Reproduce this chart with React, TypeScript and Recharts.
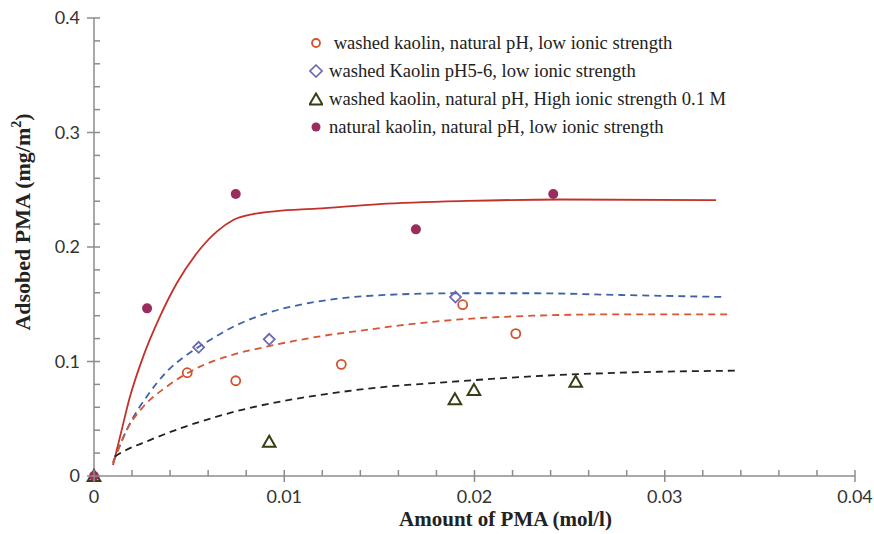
import { ComposedChart, Line, Scatter, XAxis, YAxis } from 'recharts';

// measured points
const washedX = [0.0049, 0.00745, 0.013, 0.01938, 0.02217];
const washedY = [0.0902, 0.0832, 0.0975, 0.1496, 0.1243];

const ph56X = [0.0055, 0.00921, 0.019];
const ph56Y = [0.1124, 0.1194, 0.1563];

const highIonX = [0, 0.00921, 0.01897, 0.01997, 0.02532];
const highIonY = [0, 0.030, 0.067, 0.0751, 0.0824];

const naturalX = [0, 0.00279, 0.00745, 0.01692, 0.02414];
const naturalY = [0, 0.1464, 0.2463, 0.2154, 0.2463];

// fitted curves
const naturalFitX = [0.001, 0.00137, 0.00189, 0.00259, 0.00347, 0.00435, 0.0054, 0.00645, 0.00732, 0.00837, 0.0096, 0.0117, 0.015, 0.0196, 0.0245, 0.0327];
const naturalFitY = [0.0096, 0.0344, 0.0692, 0.1045, 0.1394, 0.1683, 0.1945, 0.2134, 0.2236, 0.2288, 0.2314, 0.2335, 0.2375, 0.2402, 0.2415, 0.241];

const ph56FitX = [0.001, 0.00189, 0.00277, 0.00382, 0.00487, 0.0061, 0.00732, 0.00908, 0.0117, 0.01433, 0.019, 0.02307, 0.02765, 0.0332];
const ph56FitY = [0.012, 0.046, 0.0693, 0.0911, 0.1057, 0.1188, 0.1304, 0.1421, 0.1522, 0.1572, 0.1596, 0.1596, 0.1581, 0.1563];

const washedFitX = [0.001, 0.00172, 0.00259, 0.00382, 0.00557, 0.00732, 0.00908, 0.0117, 0.0145, 0.01608, 0.0196, 0.0231, 0.02765, 0.03343];
const washedFitY = [0.011, 0.0402, 0.0605, 0.078, 0.0955, 0.106, 0.113, 0.1215, 0.128, 0.1315, 0.1372, 0.14, 0.1412, 0.1412];

const highIonFitX = [0.0011, 0.00137, 0.00294, 0.00469, 0.00645, 0.0082, 0.00995, 0.0117, 0.01433, 0.01889, 0.0231, 0.02765, 0.0337];
const highIonFitY = [0.017, 0.0198, 0.0314, 0.0425, 0.0518, 0.0595, 0.0655, 0.0703, 0.0762, 0.0824, 0.0871, 0.0902, 0.092];

const xTicks = [0, 0.002, 0.004, 0.006, 0.008, 0.01, 0.012, 0.014, 0.016, 0.018, 0.02, 0.022, 0.024, 0.026, 0.028, 0.03, 0.032, 0.034, 0.036, 0.038, 0.04];
const yTicks = [0, 0.02, 0.04, 0.06, 0.08, 0.1, 0.12, 0.14, 0.16, 0.18, 0.2, 0.22, 0.24, 0.26, 0.28, 0.3, 0.32, 0.34, 0.36, 0.38, 0.4];

const legendLabels = [
  '\u00a0washed kaolin, natural pH, low ionic strength',
  'washed Kaolin pH5-6, low ionic strength',
  'washed kaolin, natural pH, High ionic strength 0.1 M',
  'natural kaolin, natural pH, low ionic strength',
];

const toPoints = (xs: number[], ys: number[]) => xs.map((x, i) => ({ x, y: ys[i] }));

const AXIS = '#8c8c8c';
const TICK_FONT = 'Lato, "Open Sans", sans-serif';
const SERIF = '"Liberation Serif", "Times New Roman", serif';

const C_WASHED = '#d4502e';
const C_PH56 = '#6b68b3';
const C_HIGH = '#3a3d12';
const C_NAT = '#9b2c5e';

const isMajor = (v: number, step: number) => Math.abs(v / step - Math.round(v / step)) < 1e-6;

const XTick = (props: any) => {
  const { x, y, payload } = props;
  const v = payload.value;
  const major = isMajor(v, 0.01);
  return (
    <g>
      <line x1={x} x2={x} y1={y - 6} y2={y + (major ? 6 : 0)} stroke={AXIS} strokeWidth={1.5} />
      {major && (
        <text x={x} y={y + 27} textAnchor="middle" fontFamily={TICK_FONT} fontSize={18} fill="#333">
          {String(Math.round(v * 100) / 100)}
        </text>
      )}
    </g>
  );
};

const YTick = (props: any) => {
  const { x, y, payload } = props;
  const v = payload.value;
  const major = isMajor(v, 0.1);
  return (
    <g>
      <line x1={x - (major ? 7 : 0)} x2={x + 6} y1={y} y2={y} stroke={AXIS} strokeWidth={1.5} />
      {major && (
        <text x={x - 14} y={y} dy="0.35em" textAnchor="end" fontFamily={TICK_FONT} fontSize={18} fill="#333">
          {String(Math.round(v * 10) / 10)}
        </text>
      )}
    </g>
  );
};

const OpenCircle = (p: any) => <circle cx={p.cx} cy={p.cy} r={4.5} fill="none" stroke={C_WASHED} strokeWidth={1.8} />;
const Diamond = (p: any) => (
  <path d={`M${p.cx},${p.cy - 5.5}L${p.cx + 5.5},${p.cy}L${p.cx},${p.cy + 5.5}L${p.cx - 5.5},${p.cy}Z`} fill="none" stroke={C_PH56} strokeWidth={1.8} />
);
const Triangle = (p: any) => (
  <path d={`M${p.cx},${p.cy - 6}L${p.cx + 6.3},${p.cy + 5}L${p.cx - 6.3},${p.cy + 5}Z`} fill="none" stroke={C_HIGH} strokeWidth={2} />
);
const Dot = (p: any) => <circle cx={p.cx} cy={p.cy} r={5} fill={C_NAT} />;

const legendMarkers = [
  <circle cx={7} cy={7} r={4} fill="none" stroke={C_WASHED} strokeWidth={1.8} />,
  <path d="M7,1L13,7L7,13L1,7Z" fill="none" stroke={C_PH56} strokeWidth={1.6} />,
  <path d="M7,1.5L13.5,12.5L0.5,12.5Z" fill="none" stroke={C_HIGH} strokeWidth={2} />,
  <circle cx={7} cy={7} r={4.5} fill={C_NAT} />,
];

export default function App() {
  return (
    <div style={{ position: 'absolute', left: 0, top: 0, width: 874, height: 534, background: '#fff' }}>
      <ComposedChart width={874} height={534} margin={{ top: 18, right: 19, left: 0, bottom: 0 }}>
        <XAxis
          type="number"
          dataKey="x"
          domain={[0, 0.04]}
          ticks={xTicks}
          interval={0}
          height={58}
          tickSize={0}
          tickMargin={0}
          tickLine={false}
          tick={<XTick />}
          axisLine={{ stroke: AXIS, strokeWidth: 1.5 }}
          label={{
            content: (p: any) => (
              <text
                x={p.viewBox.x + p.viewBox.width / 2 + 31}
                y={p.viewBox.y + 50}
                textAnchor="middle"
                fontFamily={SERIF}
                fontWeight="bold"
                fontSize={21}
                fill="#222"
              >
                Amount of PMA (mol/l)
              </text>
            ),
          }}
        />
        <YAxis
          type="number"
          dataKey="y"
          domain={[0, 0.4]}
          ticks={yTicks}
          interval={0}
          width={94}
          tickSize={0}
          tickMargin={0}
          tickLine={false}
          tick={<YTick />}
          axisLine={{ stroke: AXIS, strokeWidth: 1.5 }}
          label={{
            content: (p: any) => {
              const cx = 30;
              const cy = p.viewBox.y + p.viewBox.height / 2 - 25;
              return (
                <text
                  x={cx}
                  y={cy}
                  transform={`rotate(-90 ${cx} ${cy})`}
                  textAnchor="middle"
                  fontFamily={SERIF}
                  fontWeight="bold"
                  fontSize={22}
                  fill="#222"
                >
                  Adsobed PMA (mg/m<tspan dy={-9} fontSize={14}>2</tspan><tspan dy={9}>)</tspan>
                </text>
              );
            },
          }}
        />

        <Line data={toPoints(naturalFitX, naturalFitY)} dataKey="y" type="monotone" stroke="#c4302a" strokeWidth={1.8} dot={false} activeDot={false} isAnimationActive={false} />
        <Line data={toPoints(ph56FitX, ph56FitY)} dataKey="y" type="monotone" stroke="#3d62a6" strokeWidth={1.8} strokeDasharray="7 5" dot={false} activeDot={false} isAnimationActive={false} />
        <Line data={toPoints(washedFitX, washedFitY)} dataKey="y" type="monotone" stroke="#d55535" strokeWidth={1.8} strokeDasharray="7 5" dot={false} activeDot={false} isAnimationActive={false} />
        <Line data={toPoints(highIonFitX, highIonFitY)} dataKey="y" type="monotone" stroke="#222" strokeWidth={1.8} strokeDasharray="7 5" dot={false} activeDot={false} isAnimationActive={false} />

        <Scatter data={toPoints(washedX, washedY)} dataKey="y" shape={OpenCircle} isAnimationActive={false} />
        <Scatter data={toPoints(ph56X, ph56Y)} dataKey="y" shape={Diamond} isAnimationActive={false} />
        <Scatter data={toPoints(highIonX, highIonY)} dataKey="y" shape={Triangle} isAnimationActive={false} />
        <Scatter data={toPoints(naturalX, naturalY)} dataKey="y" shape={Dot} isAnimationActive={false} />
      </ComposedChart>

      <div style={{ position: 'absolute', left: 309, top: 29.5, fontFamily: SERIF, fontSize: 18.6, color: '#222' }}>
        {legendLabels.map((label, i) => (
          <div key={i} style={{ display: 'flex', alignItems: 'center', height: 27.8, whiteSpace: 'nowrap' }}>
            <svg width={14} height={14} style={{ marginRight: 6, flexShrink: 0 }}>{legendMarkers[i]}</svg>
            <span>{label}</span>
          </div>
        ))}
      </div>
    </div>
  );
}
